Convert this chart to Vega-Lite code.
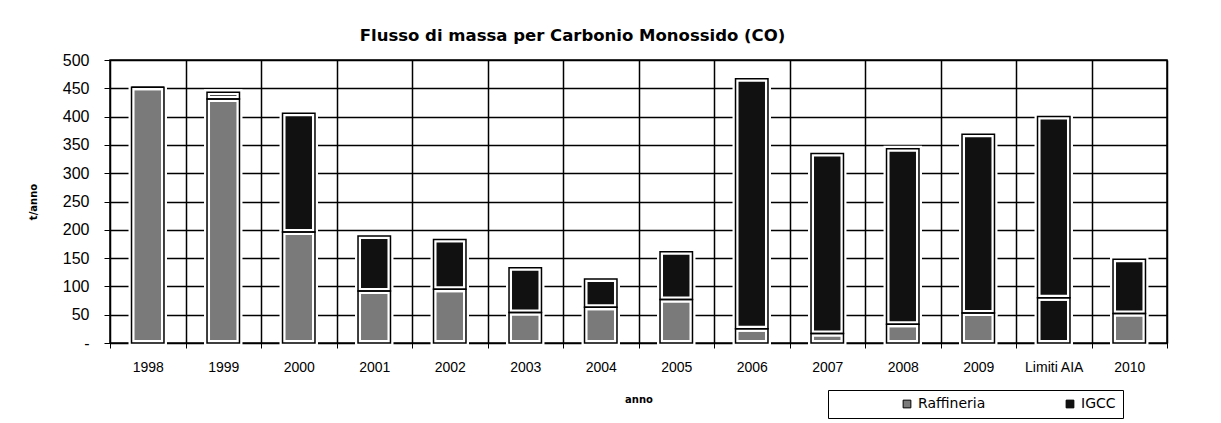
{
  "$schema": "https://vega.github.io/schema/vega-lite/v6.json",
  "width": 1057,
  "height": 283,
  "autosize": {"type": "none"},
  "padding": {"left": 110, "top": 60, "right": 54, "bottom": 80},
  "background": "white",
  "title": {
    "text": "Flusso di massa per Carbonio Monossido (CO)",
    "font": "DejaVu Sans",
    "fontSize": 16.5,
    "fontWeight": "bold",
    "color": "black",
    "anchor": "middle",
    "dx": -66,
    "offset": 8
  },
  "data": {
    "values": [
      {"anno": "1998", "serie": "Raffineria", "t": 452},
      {"anno": "1998", "serie": "IGCC", "t": 0},
      {"anno": "1999", "serie": "Raffineria", "t": 431},
      {"anno": "1999", "serie": "IGCC", "t": 12},
      {"anno": "2000", "serie": "Raffineria", "t": 196},
      {"anno": "2000", "serie": "IGCC", "t": 210},
      {"anno": "2001", "serie": "Raffineria", "t": 92},
      {"anno": "2001", "serie": "IGCC", "t": 97},
      {"anno": "2002", "serie": "Raffineria", "t": 95},
      {"anno": "2002", "serie": "IGCC", "t": 88},
      {"anno": "2003", "serie": "Raffineria", "t": 54},
      {"anno": "2003", "serie": "IGCC", "t": 79},
      {"anno": "2004", "serie": "Raffineria", "t": 63},
      {"anno": "2004", "serie": "IGCC", "t": 50},
      {"anno": "2005", "serie": "Raffineria", "t": 77},
      {"anno": "2005", "serie": "IGCC", "t": 84},
      {"anno": "2006", "serie": "Raffineria", "t": 25},
      {"anno": "2006", "serie": "IGCC", "t": 442},
      {"anno": "2007", "serie": "Raffineria", "t": 17},
      {"anno": "2007", "serie": "IGCC", "t": 318},
      {"anno": "2008", "serie": "Raffineria", "t": 33},
      {"anno": "2008", "serie": "IGCC", "t": 310},
      {"anno": "2009", "serie": "Raffineria", "t": 53},
      {"anno": "2009", "serie": "IGCC", "t": 316},
      {"anno": "Limiti AIA", "serie": "Raffineria", "t": 80},
      {"anno": "Limiti AIA", "serie": "IGCC", "t": 320},
      {"anno": "2010", "serie": "Raffineria", "t": 52},
      {"anno": "2010", "serie": "IGCC", "t": 96}
    ]
  },
  "encoding": {
    "x": {
      "field": "anno",
      "type": "nominal",
      "sort": null,
      "scale": {"paddingInner": 0, "paddingOuter": 0},
      "axis": {
        "title": "anno",
        "titleFont": "DejaVu Sans",
        "titleFontSize": 10,
        "titleFontWeight": "bold",
        "titleColor": "black",
        "titlePadding": 20,
        "labelAngle": 0,
        "labelFont": "Liberation Sans",
        "labelFontSize": 14,
        "labelColor": "black",
        "labelPadding": 12,
        "tickBand": "extent",
        "tickSize": 5,
        "tickColor": "black",
        "domainColor": "black",
        "grid": true,
        "gridColor": "black",
        "gridWidth": 1.5
      }
    },
    "y": {
      "field": "t",
      "type": "quantitative",
      "stack": "zero",
      "scale": {"domain": [0, 500], "nice": false},
      "axis": {
        "title": "t/anno",
        "titleFont": "DejaVu Sans",
        "titleFontSize": 10,
        "titleFontWeight": "bold",
        "titleColor": "black",
        "titlePadding": 24,
        "values": [0, 50, 100, 150, 200, 250, 300, 350, 400, 450, 500],
        "labelExpr": "datum.value == 0 ? '-' : datum.label",
        "labelFont": "Liberation Sans",
        "labelFontSize": 16,
        "labelColor": "black",
        "labelPadding": 15,
        "tickSize": 6,
        "tickColor": "black",
        "domainColor": "black",
        "grid": true,
        "gridColor": "black",
        "gridWidth": 1.5
      }
    },
    "detail": {"field": "serie"},
    "order": {"field": "serie", "sort": "descending"}
  },
  "layer": [
    {
      "mark": {"type": "bar", "stroke": "white", "strokeWidth": 6, "width": {"band": 0.43}},
      "encoding": {
        "color": {
          "field": "serie",
          "type": "nominal",
          "condition": {"test": "datum.anno == 'Limiti AIA'", "value": "#111111"},
          "scale": {"domain": ["Raffineria", "IGCC"], "range": ["#7a7a7a", "#111111"]},
          "legend": {
            "title": null,
            "orient": "none",
            "legendX": 718,
            "legendY": 330,
            "direction": "horizontal",
            "columns": 2,
            "gridAlign": "all",
            "columnPadding": 12,
            "padding": 7,
            "symbolOffset": 65,
            "strokeColor": "black",
            "symbolType": "square",
            "symbolSize": 60,
            "symbolStrokeColor": "black",
            "symbolStrokeWidth": 1,
            "labelFont": "DejaVu Sans",
            "labelFontSize": 14,
            "labelColor": "black"
          }
        }
      }
    },
    {
      "mark": {"type": "bar", "fill": null, "fillOpacity": 0, "stroke": "black", "strokeWidth": 1.5, "width": {"band": 0.43}}
    }
  ],
  "config": {
    "view": {"stroke": "black", "strokeWidth": 1.5},
    "font": "Liberation Sans"
  }
}
